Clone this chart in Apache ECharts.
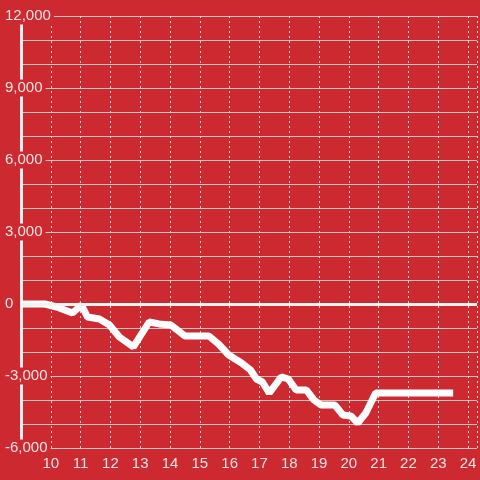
<!DOCTYPE html>
<html>
<head>
<meta charset="utf-8">
<script src="https://cdn.jsdelivr.net/npm/echarts@6/dist/echarts.min.js"></script>
<style>
  html, body { margin: 0; padding: 0; background: #cc2a30; }
  #chart { width: 480px; height: 480px; }
</style>
</head>
<body>
<div id="chart"></div>
<script>
// hour of day vs running total
var hours = [9.0, 9.8, 10.2, 10.73, 11.03, 11.23, 11.63, 11.97, 12.3, 12.77,
  13.3, 13.63, 14.03, 14.5, 15.3, 15.63, 15.97, 16.4, 16.7, 16.9,
  17.1, 17.33, 17.73, 17.97, 18.23, 18.57, 18.83, 19.07, 19.53, 19.8,
  20.07, 20.3, 20.57, 20.9, 23.5];
var totals = [0, 0, -125, -375, -42, -540, -625, -875, -1375, -1790,
  -750, -830, -875, -1330, -1330, -1670, -2125, -2460, -2750, -3125,
  -3250, -3710, -3040, -3125, -3580, -3580, -4000, -4210, -4210, -4625,
  -4670, -4960, -4540, -3710, -3710];
var xTicks = [10, 11, 12, 13, 14, 15, 16, 17, 18, 19, 20, 21, 22, 23, 24];

var points = [];
for (var i = 0; i < hours.length; i++) {
    points.push([hours[i], totals[i]]);
}

var bg = '#cc2a30';
var chart = echarts.init(document.getElementById('chart'), null, { renderer: 'canvas' });
var option = {
    backgroundColor: bg,
    animation: false,
    grid: { left: 21, right: 0, top: 16, bottom: 32 },
    xAxis: {
        type: 'value',
        min: 9,
        max: 24.3,
        interval: 1,
        axisLine: { show: false },
        axisTick: { show: false },
        axisLabel: {
            color: '#f3e3e3',
            fontSize: 15,
            fontFamily: 'Liberation Sans, Arial, sans-serif',
            margin: 8,
            formatter: function (v) {
                return xTicks.indexOf(v) >= 0 ? String(v) : '';
            }
        },
        splitLine: {
            show: true,
            lineStyle: { color: '#e6d6d6', width: 1, type: [2, 3] }
        }
    },
    yAxis: {
        type: 'value',
        min: -6000,
        max: 12000,
        interval: 3000,
        axisLine: { show: true, lineStyle: { color: '#eeeeee', width: 3 } },
        axisTick: { show: false },
        minorTick: { show: false, splitNumber: 3 },
        minorSplitLine: { show: true, lineStyle: { color: '#c9c4c4', width: 1 } },
        splitLine: { show: true, lineStyle: { color: '#c9c4c4', width: 1 } },
        axisLabel: {
            color: '#f3e3e3',
            fontSize: 15,
            fontFamily: 'Liberation Sans, Arial, sans-serif',
            align: 'left',
            margin: 16,
            backgroundColor: bg,
            padding: [1, 3, 1, 0]
        }
    },
    series: [{
        type: 'line',
        data: points,
        symbol: 'none',
        lineStyle: { color: '#ffffff', width: 7 },
        markLine: {
            silent: true,
            symbol: 'none',
            label: { show: false },
            lineStyle: { color: '#f2f2f2', width: 3, type: 'solid' },
            data: [{ yAxis: 0 }]
        }
    }]
};
chart.setOption(option);
window.addEventListener('resize', chart.resize);
</script>
</body>
</html>
